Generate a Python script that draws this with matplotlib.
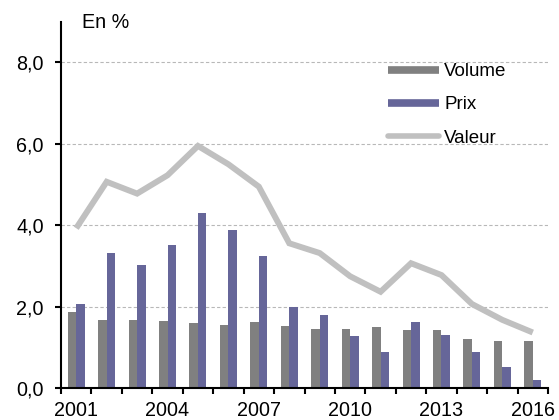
import matplotlib
matplotlib.use("Agg")
import matplotlib.pyplot as plt
from matplotlib.lines import Line2D
import numpy as np

plt.rcParams['font.family'] = ['Liberation Sans', 'DejaVu Sans']

years = list(range(2001, 2017))
volume = [1.87, 1.68, 1.68, 1.65, 1.60, 1.55, 1.63, 1.53, 1.46, 1.46, 1.51, 1.43, 1.43, 1.21, 1.16, 1.16]
prix = [2.06, 3.32, 3.03, 3.52, 4.31, 3.89, 3.25, 2.00, 1.80, 1.28, 0.89, 1.63, 1.31, 0.89, 0.52, 0.20]
valeur = [3.93, 5.07, 4.78, 5.23, 5.95, 5.50, 4.95, 3.56, 3.32, 2.75, 2.37, 3.07, 2.78, 2.07, 1.68, 1.37]
labels = ['Volume', 'Prix', 'Valeur']
yticks = [0, 2, 4, 6, 8]
ytick_labels = ['0,0', '2,0', '4,0', '6,0', '8,0']
xlabel_years = [2001, 2004, 2007, 2010, 2013, 2016]

c_vol = '#808080'
c_prix = '#666699'
c_val = '#c0c0c0'

fig = plt.figure(figsize=(5.59, 4.20), dpi=100)
ax = fig.add_axes([61/559, 1-388.3/420, (548-61)/559, (388.3-21.7)/420])

x = np.arange(len(years))
w = 0.28
ax.bar(x - w/2, volume, width=w, color=c_vol, zorder=2)
ax.bar(x + w/2, prix, width=w, color=c_prix, zorder=2)
ax.plot(x, valeur, color=c_val, lw=4.3, zorder=3, solid_capstyle='butt', solid_joinstyle='miter')

ax.set_xlim(-0.5, len(years) - 0.5)
ax.set_ylim(0, 9)

for s in ['top', 'right']:
    ax.spines[s].set_visible(False)
for s in ['left', 'bottom']:
    ax.spines[s].set_linewidth(1.5)
    ax.spines[s].set_color('black')

ax.set_yticks(yticks)
ax.set_yticklabels(ytick_labels, fontsize=14.2)
ax.tick_params(axis='y', direction='out', length=4.3, width=1.5, pad=8)

ax.set_xticks([years.index(y) for y in xlabel_years])
ax.set_xticklabels([str(y) for y in xlabel_years], fontsize=14.2)
ax.set_xticks(np.arange(-0.5, len(years), 1.0), minor=True)
ax.tick_params(axis='x', which='major', length=0, pad=9.5)
ax.tick_params(axis='x', which='minor', direction='out', length=4, width=1.5)

for yv in yticks[1:]:
    ax.axhline(yv, color='#b8b8b8', lw=0.8, ls=(0, (3, 2)), zorder=1)

fig.text(82/559, 1-23/420, 'En %', fontsize=14.2, va='center', ha='left')

handles = [Line2D([], [], color=c_vol, lw=5.5, solid_capstyle='butt'),
           Line2D([], [], color=c_prix, lw=5.5, solid_capstyle='butt'),
           Line2D([], [], color=c_val, lw=4, solid_capstyle='round')]
leg = ax.legend(handles, labels, loc='upper left', bbox_to_anchor=(388/559, 1-63/420),
                bbox_transform=fig.transFigure, frameon=False, fontsize=13.5,
                handlelength=2.72, handletextpad=0.27, labelspacing=0.86, borderpad=0,
                borderaxespad=0)

fig.savefig('out.png', dpi=100)
